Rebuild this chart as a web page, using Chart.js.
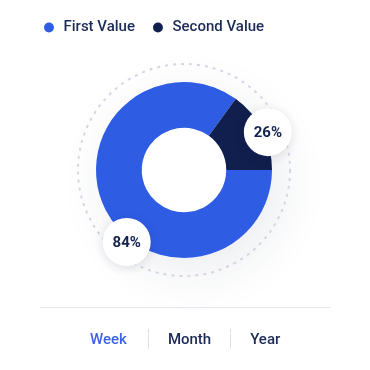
<!DOCTYPE html>
<html>
<head>
<title>Value Split</title>
<script src="https://cdn.jsdelivr.net/npm/chart.js"></script>
<style>
  body { margin: 0; background: #fff; font-family: Roboto, sans-serif; }
  #wrap { position: relative; width: 370px; height: 370px; }
  #divider { position: absolute; left: 40px; top: 307px; width: 290px; height: 1px; background: #e4e7ee; }
  #tabs { position: absolute; left: 70px; top: 329px; display: flex; }
  #tabs span { padding: 0 19px; height: 20px; line-height: 20px; font-size: 15px; font-weight: 500; color: #1b2a57; }
  #tabs span:first-child { padding-left: 20px; padding-right: 21px; }
  #tabs span + span { border-left: 1px solid #dde1ea; }
  #tabs span.on { color: #3d64e0; }
</style>
</head>
<body>
<div id="wrap">
  <canvas id="donut" width="370" height="370"></canvas>
  <div id="divider"></div>
  <div id="tabs"></div>
</div>

<script>
    // chart data
    const categories = ['First Value', 'Second Value'];
    const values = [85, 15];
    const shownLabels = ['84%', '26%']; // text printed in the bubbles
    const periods = ['Week', 'Month', 'Year'];
    const activePeriod = 0;

    const colors = ['#2e5ce3', '#111f4e'];
    const labelAt = [0.42, 0.55]; // where along each slice the bubble sits

    // tabs under the chart
    const tabs = document.getElementById('tabs');
    periods.forEach((p, i) => {
        const s = document.createElement('span');
        s.textContent = p;
        if (i === activePeriod) s.className = 'on';
        tabs.appendChild(s);
    });

    const decor = {
        id: 'decor',
        beforeDatasetsDraw(chart) {
            const arc = chart.getDatasetMeta(0).data[0];
            const { x, y, outerRadius } = arc.getProps(['x', 'y', 'outerRadius'], true);
            const ctx = chart.ctx;
            // soft shadow behind the ring
            ctx.save();
            ctx.beginPath();
            ctx.arc(x, y, outerRadius, 0, Math.PI * 2);
            ctx.fillStyle = '#fff';
            ctx.shadowColor = 'rgba(30,40,80,0.09)';
            ctx.shadowBlur = 50;
            ctx.shadowOffsetX = 10;
            ctx.shadowOffsetY = 14;
            ctx.fill();
            ctx.restore();
            // dashed outer circle
            ctx.save();
            ctx.beginPath();
            ctx.arc(x, y, outerRadius + 18, 0, Math.PI * 2);
            ctx.setLineDash([3, 5]);
            ctx.lineWidth = 2;
            ctx.strokeStyle = '#d3d7e3';
            ctx.stroke();
            ctx.restore();
        },
        afterDatasetsDraw(chart) {
            const ctx = chart.ctx;
            chart.getDatasetMeta(0).data.forEach((arc, i) => {
                const p = arc.getProps(['x', 'y', 'startAngle', 'endAngle', 'outerRadius'], true);
                const a = p.startAngle + (p.endAngle - p.startAngle) * labelAt[i];
                const r = p.outerRadius + 4;
                const cx = p.x + Math.cos(a) * r;
                const cy = p.y + Math.sin(a) * r;
                ctx.save();
                ctx.beginPath();
                ctx.arc(cx, cy, 24, 0, Math.PI * 2);
                ctx.fillStyle = '#fff';
                ctx.shadowColor = 'rgba(20,30,70,0.14)';
                ctx.shadowBlur = 12;
                ctx.shadowOffsetY = 2;
                ctx.fill();
                ctx.restore();
                ctx.save();
                ctx.fillStyle = '#14234f';
                ctx.font = '700 15px Roboto';
                ctx.textAlign = 'center';
                ctx.textBaseline = 'middle';
                ctx.fillText(shownLabels[i], cx, cy + 1);
                ctx.restore();
            });
        }
    };

    Chart.defaults.font.family = 'Roboto';

    const ctx = document.getElementById('donut').getContext('2d');
    const chart = new Chart(ctx, {
        type: 'doughnut',
        data: {
            labels: categories,
            datasets: [{
                data: values,
                backgroundColor: colors,
                borderWidth: 0,
                hoverOffset: 0
            }]
        },
        options: {
            responsive: false,
            animation: false,
            rotation: 90,
            radius: 88,
            cutout: '48%',
            layout: { padding: { top: 4, left: 26, right: 28, bottom: 75 } },
            plugins: {
                tooltip: { enabled: false },
                legend: {
                    position: 'top',
                    align: 'start',
                    labels: {
                        usePointStyle: true,
                        pointStyle: 'circle',
                        boxWidth: 14,
                        boxHeight: 7,
                        padding: 16,
                        color: '#1b2a57',
                        font: { size: 15, weight: 500 }
                    }
                }
            }
        },
        plugins: [decor]
    });
</script>
</body>
</html>
